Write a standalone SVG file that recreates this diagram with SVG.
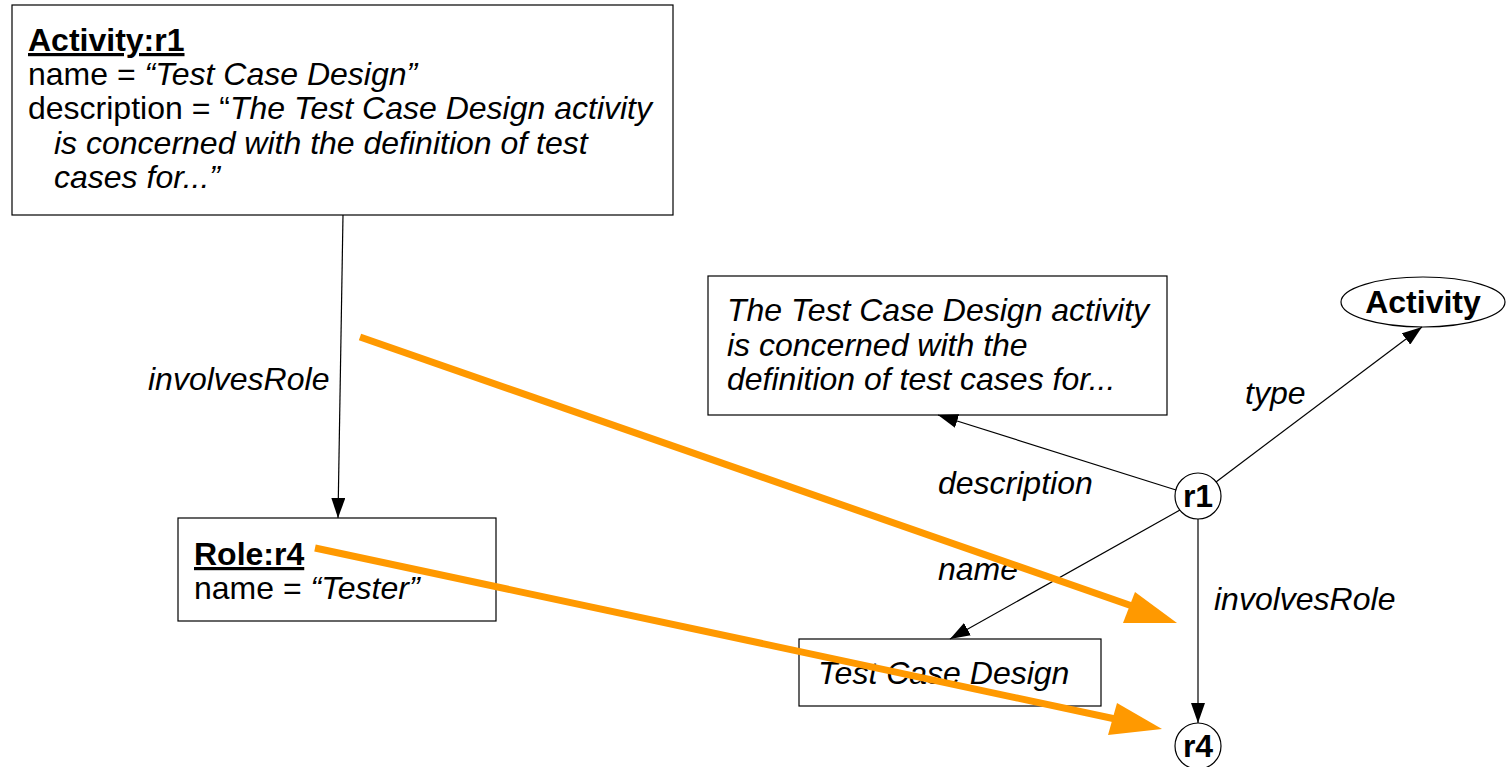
<svg xmlns="http://www.w3.org/2000/svg" width="1509" height="767" viewBox="0 0 1509 767">
<style>
.box{fill:#fff;stroke:#000;stroke-width:1.2}
.t{font-family:"Liberation Sans",Arial,sans-serif;font-size:32px;fill:#000}
.i{font-style:italic}
.b{font-weight:bold}
.u{text-decoration:underline}
.edge{stroke:#000;stroke-width:1.2;fill:none}
.hl{stroke:#ff9900;stroke-width:7;fill:none}
</style>
<defs>
<marker id="ah" markerWidth="20" markerHeight="14" refX="20" refY="7" orient="auto" markerUnits="userSpaceOnUse">
<path d="M0,0 L20,7 L0,14 Z" fill="#000"/>
</marker>
</defs>
<g id="activity-r1">
<rect class="box" x="12" y="5" width="661" height="210"/>
<text class="t b u" x="28" y="51">Activity:r1</text>
<text class="t" x="28" y="85">name = <tspan class="i">“Test Case Design”</tspan></text>
<text class="t" x="28" y="119">description = “<tspan class="i">The Test Case Design activity</tspan></text>
<text class="t i" x="54" y="154">is concerned with the definition of test</text>
<text class="t i" x="54" y="188">cases for...”</text>
</g>
<g id="role-r4">
<rect class="box" x="178" y="518" width="318" height="103"/>
<text class="t b u" x="194" y="565">Role:r4</text>
<text class="t" x="194" y="599">name = <tspan class="i">“Tester”</tspan></text>
</g>
<g id="desc-literal">
<rect class="box" x="708" y="276" width="459" height="139"/>
<text class="t i" x="727" y="321">The Test Case Design activity</text>
<text class="t i" x="727" y="356">is concerned with the</text>
<text class="t i" x="727" y="390">definition of test cases for...</text>
</g>
<g id="activity-class">
<ellipse cx="1423" cy="302" rx="82" ry="25" fill="#fff" stroke="#000" stroke-width="1.2"/>
<text class="t b" x="1423" y="313" text-anchor="middle">Activity</text>
</g>
<g id="name-literal">
<rect class="box" x="799" y="639" width="302" height="67"/>
<text class="t i" x="818" y="684">Test Case Design</text>
</g>
<g id="r1">
<circle cx="1198" cy="496" r="23" fill="#fff" stroke="#000" stroke-width="1.2"/>
<text class="t b" x="1198" y="507" text-anchor="middle">r1</text>
</g>
<g id="r4">
<circle cx="1198" cy="746" r="23" fill="#fff" stroke="#000" stroke-width="1.2"/>
<text class="t b" x="1198" y="757" text-anchor="middle">r4</text>
</g>
<g id="connectors">
<line class="edge" x1="343" y1="215" x2="338" y2="518" marker-end="url(#ah)"/>
<line class="edge" x1="1176" y1="490" x2="938" y2="415" marker-end="url(#ah)"/>
<line class="edge" x1="1216" y1="482" x2="1422" y2="327" marker-end="url(#ah)"/>
<line class="edge" x1="1180" y1="510" x2="950" y2="639" marker-end="url(#ah)"/>
<line class="edge" x1="1198" y1="519" x2="1198" y2="723" marker-end="url(#ah)"/>
<text class="t i" x="148" y="390">involvesRole</text>
<text class="t i" x="1245" y="404">type</text>
<text class="t i" x="938" y="494">description</text>
<text class="t i" x="938" y="580">name</text>
<text class="t i" x="1214" y="610">involvesRole</text>
</g>
<g id="highlight-arrows">
<line class="hl" x1="360" y1="337" x2="1135" y2="607"/>
<polygon points="1177,623 1135,592 1123,623" fill="#ff9900"/>
<line class="hl" x1="315" y1="548" x2="1120" y2="720"/>
<polygon points="1162,729 1117,703 1108,735" fill="#ff9900"/>
</g>
</svg>
